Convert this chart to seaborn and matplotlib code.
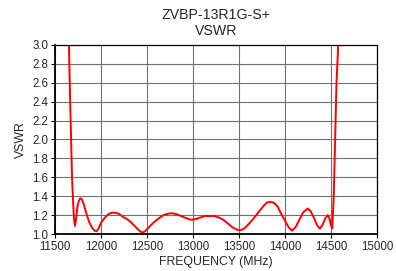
import matplotlib
matplotlib.use("Agg")
import matplotlib.pyplot as plt
import seaborn as sns
import pandas as pd

# values
freq_mhz = [11650, 11660, 11672, 11685, 11698, 11708, 11717, 11728, 11742, 11758,
            11775, 11790, 11810, 11840, 11870, 11900, 11930, 11953, 11975, 12000,
            12040, 12080, 12120, 12160, 12200, 12240, 12280, 12320, 12360, 12400,
            12430, 12453, 12480, 12520, 12570, 12620, 12680, 12730, 12770, 12820,
            12870, 12920, 12960, 12990, 13040, 13080, 13130, 13180, 13230, 13280,
            13330, 13380, 13430, 13480, 13518, 13560, 13620, 13680, 13728, 13770,
            13800, 13840, 13880, 13920, 13960, 14000, 14040, 14080, 14120, 14160,
            14200, 14247, 14280, 14320, 14350, 14380, 14410, 14440, 14464, 14485,
            14500, 14514, 14530, 14545, 14560, 14579, 14590]
vswr = [3.05, 2.6, 2.1, 1.6, 1.3, 1.14, 1.085, 1.15, 1.28, 1.35,
        1.378, 1.37, 1.32, 1.22, 1.13, 1.07, 1.035, 1.03, 1.06, 1.12,
        1.17, 1.21, 1.225, 1.225, 1.21, 1.18, 1.16, 1.13, 1.09, 1.05,
        1.025, 1.015, 1.03, 1.07, 1.12, 1.16, 1.20, 1.215, 1.22, 1.21,
        1.19, 1.17, 1.155, 1.15, 1.16, 1.175, 1.19, 1.19, 1.19, 1.175,
        1.15, 1.11, 1.07, 1.045, 1.04, 1.06, 1.12, 1.19, 1.25, 1.30,
        1.33, 1.34, 1.33, 1.29, 1.21, 1.14, 1.07, 1.035, 1.08, 1.16,
        1.23, 1.27, 1.24, 1.16, 1.09, 1.056, 1.10, 1.17, 1.20, 1.16,
        1.09, 1.06, 1.40, 2.00, 2.60, 3.00, 3.30]

x_ticks = [11500, 12000, 12500, 13000, 13500, 14000, 14500, 15000]
y_ticks = [1.0, 1.2, 1.4, 1.6, 1.8, 2.0, 2.2, 2.4, 2.6, 2.8, 3.0]

df = pd.DataFrame({"FREQUENCY (MHz)": freq_mhz, "VSWR": vswr})

sns.set_style("ticks")
plt.rcParams["font.family"] = ["Liberation Sans", "DejaVu Sans"]

fig = plt.figure(figsize=(3.96, 2.71), dpi=100)
ax = fig.add_axes([0.139, 0.1365, 0.813, 0.698])

sns.lineplot(data=df, x="FREQUENCY (MHz)", y="VSWR", color="#ff0000",
             linewidth=1.4, ax=ax, sort=False)

ax.set_xlim(11500, 15000)
ax.set_ylim(1.0, 3.0)
ax.set_xticks(x_ticks)
ax.set_yticks(y_ticks)
ax.set_yticklabels([f"{v:.1f}" for v in y_ticks])
ax.grid(True, color="#707070", linewidth=0.8)
ax.tick_params(labelsize=8.3, length=3, width=0.8, color="black", pad=2)
for s in ax.spines.values():
    s.set_color("black")
    s.set_linewidth(0.9)
ax.spines["left"].set_linewidth(1.3)
ax.spines["bottom"].set_linewidth(1.3)

ax.set_xlabel("FREQUENCY (MHz)", fontsize=8.8, labelpad=2)
ax.set_ylabel("VSWR", fontsize=8.8, labelpad=4)
ax.set_title("ZVBP-13R1G-S+\nVSWR", fontsize=10.2, pad=7, linespacing=1.2)

fig.savefig("out.png", dpi=100)
